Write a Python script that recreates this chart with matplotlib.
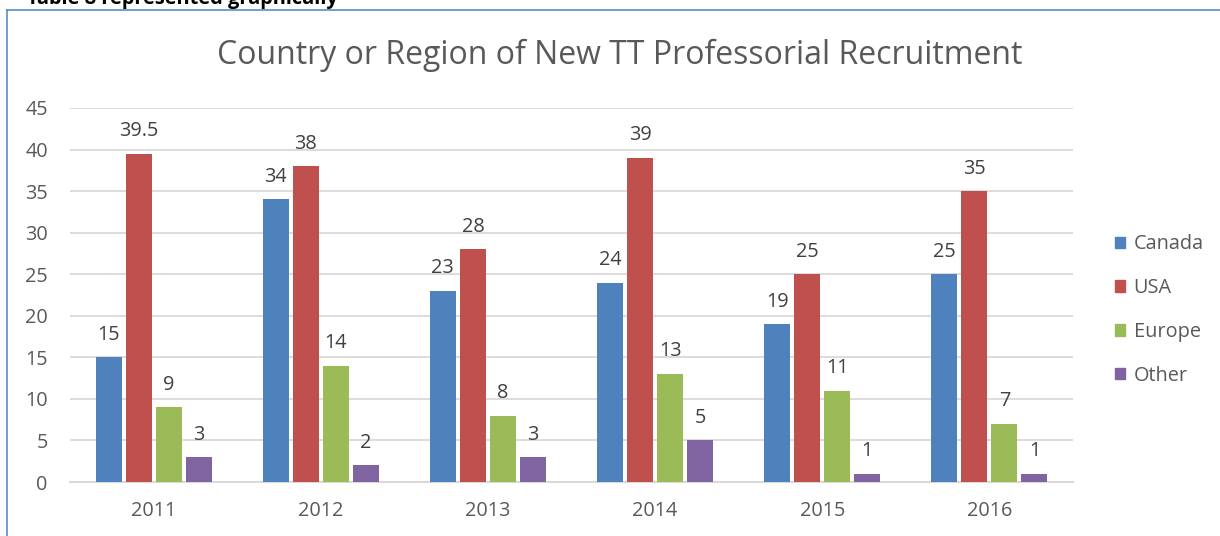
import matplotlib
matplotlib.use("Agg")
import matplotlib.pyplot as plt
from matplotlib.lines import Line2D
from matplotlib.patches import Patch
import numpy as np

years = ["2011", "2012", "2013", "2014", "2015", "2016"]
canada = [15, 34, 23, 24, 19, 25]
usa = [39.5, 38, 28, 39, 25, 35]
europe = [9, 14, 8, 13, 11, 7]
other = [3, 2, 3, 5, 1, 1]
series_names = ["Canada", "USA", "Europe", "Other"]
colors = ["#4f81bd", "#c0504d", "#9bbb59", "#8064a2"]

plt.rcParams['font.family'] = ['Open Sans', 'DejaVu Sans']

W, H = 1220, 536
fig = plt.figure(figsize=(W/100, H/100), dpi=100)
ax = fig.add_axes([70/W, 1-482/H, (1073-70)/W, (482-108)/H])

x = np.arange(len(years))
slot = 30/167
bw = 26/167
data = [canada, usa, europe, other]
for i, (vals, c, name) in enumerate(zip(data, colors, series_names)):
    pos = x + (i - 1.5) * slot
    bars = ax.bar(pos, vals, width=bw, color=c, label=name, zorder=3)
    labels = [("%g" % v) for v in vals]
    ax.bar_label(bars, labels=labels, padding=9, fontsize=14.3, color="#404040")

ax.set_xlim(-0.5, len(years) - 0.5)
ax.set_ylim(0, 45)
ax.set_yticks(range(0, 46, 5))
ax.set_xticks(x)
ax.set_xticklabels(years)
ax.yaxis.grid(True, color="#d9d9d9", linewidth=1.3, zorder=0)
ax.set_axisbelow(True)
for s in ["top", "right", "left"]:
    ax.spines[s].set_visible(False)
ax.spines["bottom"].set_color("#d9d9d9")
ax.spines["bottom"].set_linewidth(1.5)
ax.tick_params(axis="both", length=0, labelsize=14.3, labelcolor="#595959")
ax.tick_params(axis="y", pad=16)
ax.tick_params(axis="x", pad=14)

fig.text(620/W, 1-55/H, "Country or Region of New TT Professorial Recruitment",
         ha="center", va="center", fontsize=23, color="#595959")

fig.text(27/W, 1-4/H, "Table 8 represented graphically", ha="left", va="baseline",
         fontsize=14.4, fontweight="bold", color="black")

# chart border
fig.add_artist(Line2D([7/W, 7/W], [0, 1-10/H], color="#5b8cc8", linewidth=1.2))
fig.add_artist(Line2D([7/W, 1], [1-10/H, 1-10/H], color="#5b8cc8", linewidth=1.2))

handles = [Patch(color=c, label=n) for c, n in zip(colors, series_names)]
fig.legend(handles=handles, loc="center left", bbox_to_anchor=(1097/W, 1-310/H),
           frameon=False, fontsize=14.3, handlelength=0.5, handleheight=0.5,
           handletextpad=0.45, labelspacing=1.2, labelcolor="#595959")

fig.savefig("out.png", dpi=100)
